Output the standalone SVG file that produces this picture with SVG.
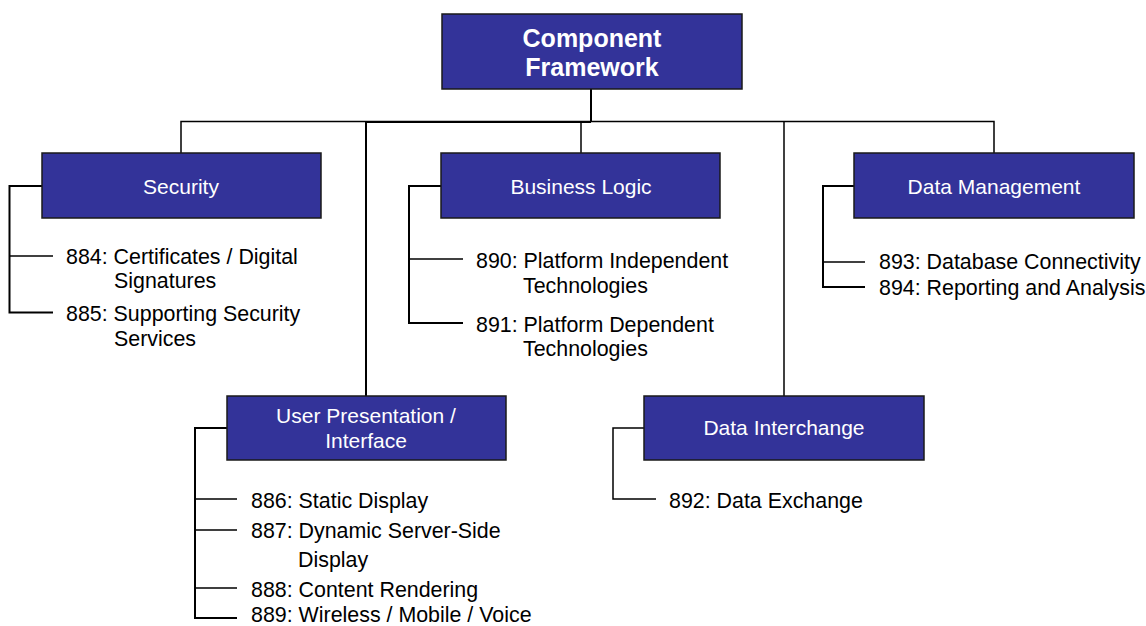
<svg xmlns="http://www.w3.org/2000/svg" width="1146" height="626" viewBox="0 0 1146 626">
<style>
.box{fill:#333399;stroke:#1a1a1a;stroke-width:1.5}
.bl{font-family:"Liberation Sans",Arial,sans-serif;font-size:21px;fill:#ffffff;text-anchor:middle}
.top{font-family:"Liberation Sans",Arial,sans-serif;font-size:25px;font-weight:bold;fill:#ffffff;text-anchor:middle}
.it{font-family:"Liberation Sans",Arial,sans-serif;font-size:21.4px;fill:#000000}
.ln{fill:none;stroke:#000000;stroke-width:1.5}
.lt{fill:none;stroke:#000000;stroke-width:2}
</style>
<rect width="1146" height="626" fill="#ffffff"/>
<g id="connectors">
<path class="lt" d="M591 89 V122"/>
<path class="ln" d="M181 153 V121.5 H994 V153"/>
<path class="ln" d="M581 121.5 V153"/>
<path class="lt" d="M366 396 V122 H591"/>
<path class="ln" d="M784 122 V396"/>
<path class="lt" d="M42 186 H9.5 V312.5 H53"/>
<path class="ln" d="M9.5 256 H53"/>
<path class="lt" d="M441 186 H409 V323 H463"/>
<path class="ln" d="M409 259 H463"/>
<path class="lt" d="M854 186 H823 V287 H865"/>
<path class="ln" d="M823 262 H865"/>
<path class="lt" d="M227 428 H195 V618 H237"/>
<path class="ln" d="M195 499 H237 M195 530 H237 M195 588 H237"/>
<path class="ln" d="M644 428 H613 V499 H656"/>
</g>
<g id="component-framework">
<rect class="box" x="442" y="14" width="300" height="75"/>
<text class="top" x="592" y="47">Component</text>
<text class="top" x="592" y="76">Framework</text>
</g>
<g id="security">
<rect class="box" x="42" y="153" width="279" height="65"/>
<text class="bl" x="181" y="194">Security</text>
<text class="it" x="66" y="264">884: Certificates / Digital</text>
<text class="it" x="114" y="288">Signatures</text>
<text class="it" x="66" y="321">885: Supporting Security</text>
<text class="it" x="114" y="346">Services</text>
</g>
<g id="business-logic">
<rect class="box" x="441" y="153" width="279" height="65"/>
<text class="bl" x="581" y="194">Business Logic</text>
<text class="it" x="476" y="268">890: Platform Independent</text>
<text class="it" x="523" y="293">Technologies</text>
<text class="it" x="476" y="332">891: Platform Dependent</text>
<text class="it" x="523" y="356">Technologies</text>
</g>
<g id="data-management">
<rect class="box" x="854" y="153" width="280" height="65"/>
<text class="bl" x="994" y="194">Data Management</text>
<text class="it" x="879" y="269">893: Database Connectivity</text>
<text class="it" x="879" y="295">894: Reporting and Analysis</text>
</g>
<g id="user-presentation">
<rect class="box" x="227" y="396" width="279" height="64"/>
<text class="bl" x="366" y="423">User Presentation /</text>
<text class="bl" x="366" y="448">Interface</text>
<text class="it" x="251" y="508">886: Static Display</text>
<text class="it" x="251" y="538">887: Dynamic Server-Side</text>
<text class="it" x="298" y="567">Display</text>
<text class="it" x="251" y="597">888: Content Rendering</text>
<text class="it" x="251" y="622">889: Wireless / Mobile / Voice</text>
</g>
<g id="data-interchange">
<rect class="box" x="644" y="396" width="280" height="64"/>
<text class="bl" x="784" y="435">Data Interchange</text>
<text class="it" x="669" y="508">892: Data Exchange</text>
</g>
</svg>
